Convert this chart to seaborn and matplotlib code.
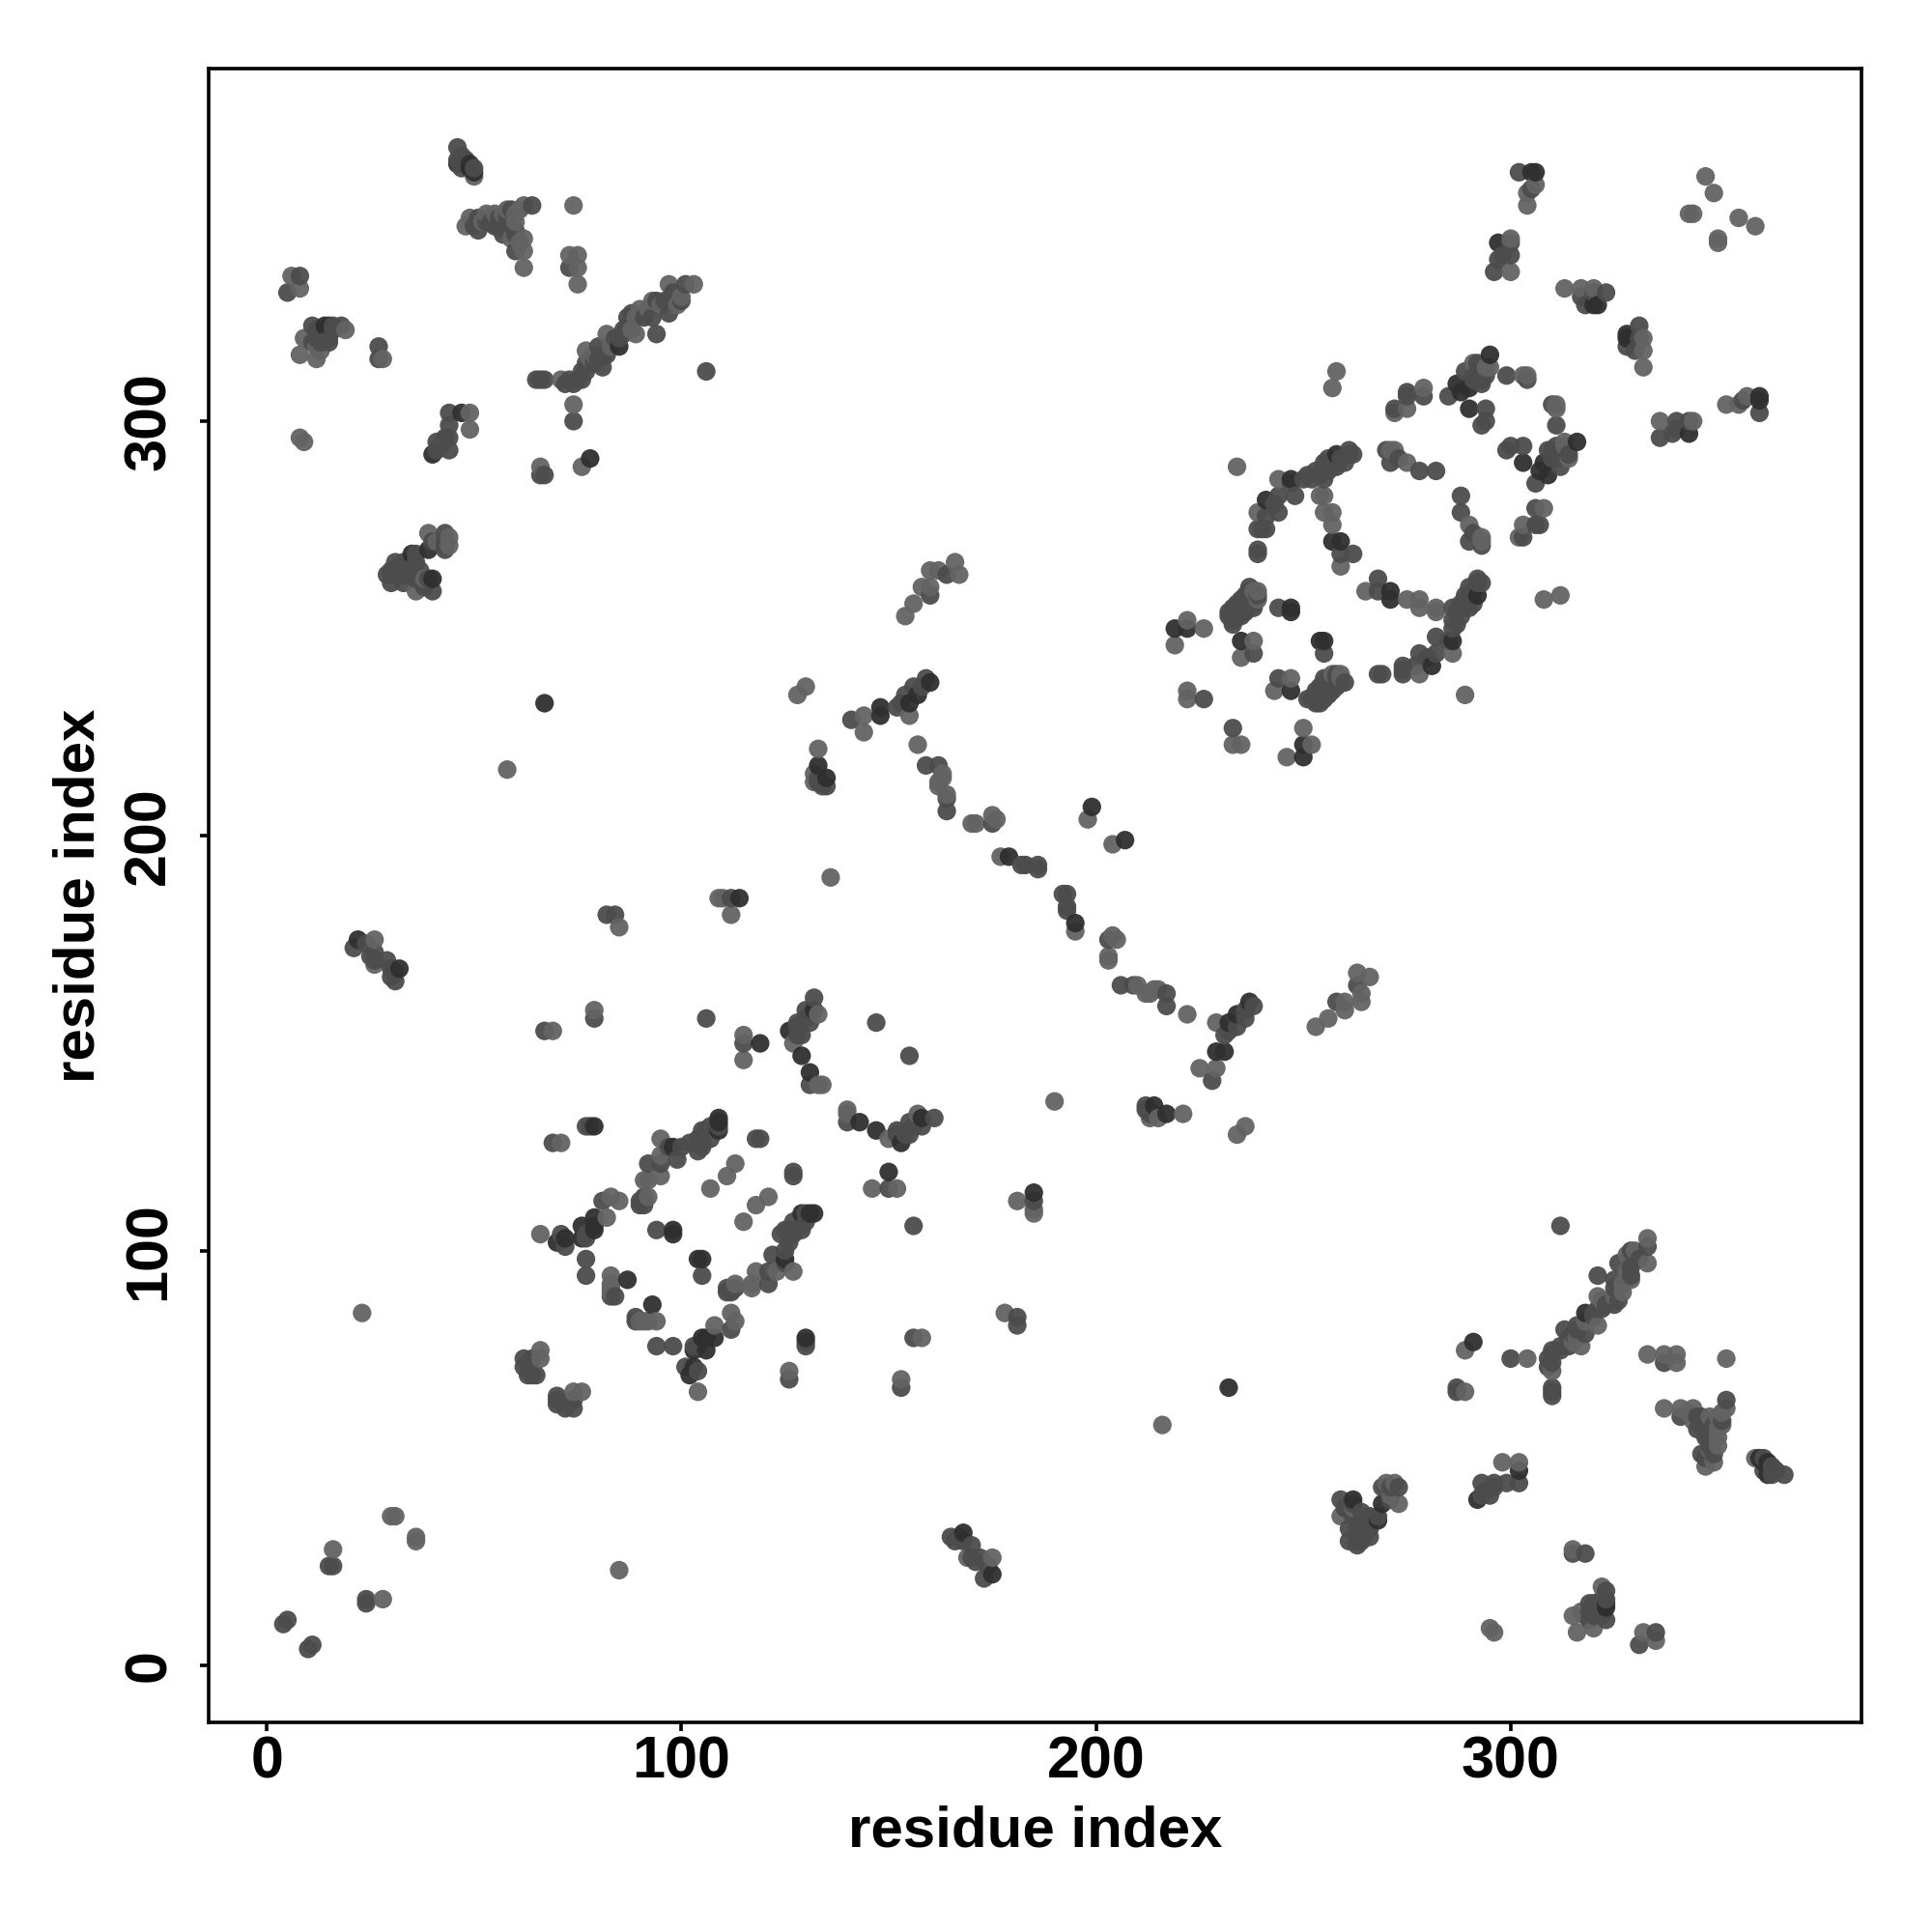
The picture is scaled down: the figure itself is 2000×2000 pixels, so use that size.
# Residue contact map, both triangles drawn from one list of contacts

import pandas as pd
import matplotlib.pyplot as plt
import seaborn as sns


# -------------------------------------------------------
# 1. Data, contacts (residue i, residue j)
# -------------------------------------------------------

light_pairs = [
    (6, 335), (8, 332), (8, 316), (12, 315), (12, 318), (19, 322), (28, 315),
    (74, 352), (73, 340), (75, 340), (75, 337), (75, 333), (62, 344), (62, 341), (62, 337),
    (48, 347), (52, 348), (55, 350), (60, 350), (61, 351), (62, 352), (50, 359),
    (71, 310), (77, 317), (82, 321), (89, 325), (89, 321), (93, 329), (97, 333), (100, 330), (103, 333),
    (74, 304), (76, 289), (66, 289), (49, 302), (49, 298), (8, 296), (9, 295),
    (39, 273), (44, 272), (44, 270), (36, 259), (38, 262),
    (166, 266), (167, 263), (160, 264), (162, 264), (158, 260), (160, 260), (156, 256), (154, 253),
    (130, 236), (128, 234), (144, 225), (144, 229), (155, 229), (157, 222), (133, 221), (132, 213),
    (159, 217), (162, 217), (163, 215), (162, 213), (164, 210), (170, 203), (171, 203), (175, 205), (176, 204),
    (177, 195), (195, 177), (203, 175), (205, 175), (203, 171), (203, 170), (210, 164), (212, 162), (214, 163), (222, 157),
    (136, 190), (198, 204), (204, 198), (219, 246), (222, 252), (226, 250), (222, 235), (222, 233),
    (233, 222), (235, 222), (258, 312), (257, 308), (234, 289), (244, 286), (248, 282), (244, 282),
    (239, 278), (244, 278), (254, 282), (255, 278), (257, 278), (257, 275), (259, 265),
    (272, 302), (275, 303), (279, 308), (272, 293), (275, 290), (278, 288), (282, 288),
    (290, 275), (293, 271), (293, 270), (291, 314), (294, 313), (304, 311), (311, 304), (311, 303),
    (303, 294), (313, 295), (311, 294), (308, 279), (303, 275), (308, 257), (312, 258), (289, 234),
    (265, 259), (275, 257), (278, 257), (278, 255), (282, 255), (286, 244), (278, 239), (268, 239),
    (239, 259), (239, 257), (238, 247), (235, 243), (247, 238), (243, 235), (259, 238), (256, 238), (250, 226), (252, 222), (246, 219),
    (235, 222), (306, 357), (304, 352), (304, 355), (300, 344), (296, 336), (300, 336),
    (313, 332), (317, 332), (320, 332), (332, 313), (332, 317), (336, 300), (352, 304), (360, 302),
    (347, 359), (349, 355), (355, 349), (359, 347), (344, 350), (350, 343),
    (69, 153), (79, 158), (115, 152), (115, 146), (133, 157), (127, 150), (134, 140), (133, 140),
    (147, 155), (140, 134), (150, 127), (157, 133), (146, 115), (152, 115), (150, 115), (127, 119),
    (113, 121), (111, 118), (107, 115), (121, 113), (118, 111), (115, 107), (95, 127), (95, 123), (95, 118), (91, 117),
    (85, 112), (83, 113), (82, 108), (66, 104), (71, 126), (69, 126), (83, 94), (83, 91), (90, 83), (92, 83), (94, 83), (94, 77),
    (112, 85), (113, 83), (108, 82), (104, 66), (158, 79), (126, 71), (153, 69), (113, 92), (117, 92), (118, 95),
    (127, 95), (66, 76), (66, 74), (74, 66), (76, 66), (4, 10), (5, 11), (16, 28), (30, 36), (31, 36),
    (58, 216), (23, 85), (169, 26), (175, 26), (181, 84), (178, 85), (85, 178), (110, 185), (112, 181),
    (109, 185), (132, 215),
    (49, 349), (53, 350), (57, 350), (58, 351), (59, 344), (61, 343), (60, 348),
    (78, 315), (79, 316), (83, 318), (88, 322), (90, 327), (92, 327), (95, 328), (99, 328),
    (13, 317), (9, 320), (41, 271),
]

mid_pairs = [
    (5, 331), (8, 335), (11, 323), (11, 319), (15, 319), (27, 318), (27, 315), (18, 323),
    (46, 366), (46, 363), (47, 361), (47, 364), (48, 363), (50, 361),
    (51, 346), (56, 349), (57, 345), (60, 341), (64, 352), (73, 337), (65, 310), (66, 310), (67, 310),
    (74, 309), (75, 310), (76, 312), (77, 312), (80, 318), (80, 315), (81, 313), (86, 321), (87, 325),
    (94, 321), (93, 325), (96, 329), (97, 326), (101, 333), (106, 312), (74, 300),
    (67, 287), (66, 287), (44, 302), (44, 299), (44, 296), (44, 293), (41, 295),
    (43, 273), (43, 269), (36, 266), (31, 266), (32, 265), (29, 263), (30, 261), (36, 262), (40, 259), (31, 263),
    (164, 263), (160, 258), (141, 228), (152, 231), (153, 232), (154, 234), (156, 236), (158, 236), (159, 238),
    (135, 212), (164, 206), (175, 203), (182, 193), (183, 193), (186, 193), (186, 192),
    (192, 186), (193, 186), (193, 183), (206, 164), (209, 164), (217, 162), (217, 159),
    (226, 233), (233, 226), (247, 286), (252, 286), (253, 288), (255, 290), (258, 292), (261, 292), (262, 292), (256, 291), (255, 286),
    (241, 281), (241, 277), (239, 274), (241, 274), (239, 269), (239, 268), (257, 271), (259, 268), (262, 268),
    (275, 307), (279, 306), (270, 293), (271, 290), (288, 282), (288, 278), (290, 271), (291, 273),
    (289, 312), (294, 311), (294, 303), (293, 299), (294, 300), (299, 311), (304, 310), (311, 299),
    (299, 293), (300, 294), (316, 295), (314, 292), (311, 291), (312, 289), (306, 279), (307, 275), (303, 272), (306, 275),
    (268, 262), (268, 259), (292, 262), (293, 261), (289, 258), (286, 255), (288, 256), (286, 252), (289, 257),
    (286, 250), (282, 248), (282, 244), (278, 244), (277, 241), (274, 240), (232, 254), (233, 251), (235, 253), (237, 260),
    (238, 256), (235, 257), (244, 255), (238, 244), (254, 247), (255, 244), (244, 238),
    (251, 233), (252, 233), (253, 232), (255, 235), (260, 237), (257, 235), (255, 238), (250, 219),
    (302, 360), (297, 339), (300, 340), (323, 331), (317, 330), (328, 318), (331, 323), (331, 320),
    (340, 300), (343, 300), (336, 296), (340, 298), (356, 305),
    (67, 153), (79, 156), (106, 156), (115, 150), (132, 161), (130, 158), (128, 155), (130, 156), (128, 152),
    (131, 140), (155, 147), (140, 131), (152, 129), (155, 131), (161, 132), (154, 128), (156, 106),
    (127, 118), (118, 127), (119, 127), (109, 130), (106, 129), (104, 127), (102, 126), (99, 122), (105, 125), (107, 130),
    (91, 113), (90, 112), (91, 111), (81, 112), (79, 106), (77, 104), (71, 104), (72, 101), (77, 130),
    (94, 105), (105, 94), (77, 98), (77, 94), (84, 89), (83, 89), (89, 83), (98, 77), (103, 77), (101, 72), (104, 71),
    (130, 78), (126, 69), (156, 79), (153, 67), (111, 90), (121, 92), (122, 99), (125, 97), (121, 95), (125, 100),
    (126, 105), (124, 104), (127, 107), (129, 105), (126, 102), (62, 74), (62, 72), (63, 70), (65, 70),
    (70, 64), (72, 62), (74, 62), (74, 64), (10, 4), (11, 5), (15, 24), (24, 16), (165, 31), (173, 21),
    (170, 29), (82, 181), (84, 181), (112, 185), (114, 185),
    (50, 347), (51, 349), (53, 348), (54, 348), (55, 347), (56, 347), (58, 349), (58, 346), (59, 351), (60, 345), (60, 346),
    (72, 309), (73, 310), (76, 310), (77, 314), (79, 314), (81, 316), (82, 316), (84, 320), (85, 320), (86, 322),
    (87, 323), (88, 326), (91, 325), (94, 329), (98, 331), (100, 329),
    (33, 266), (34, 265), (30, 263), (30, 264), (32, 263), (33, 261), (34, 263), (37, 264), (38, 260), (39, 262),
    (43, 271), (43, 270), (36, 268), (40, 271),
    (12, 320), (13, 319), (13, 321), (15, 320), (14, 320), (16, 322), (16, 323), (12, 322),
    (233, 255), (234, 256), (236, 258), (237, 257), (234, 253), (236, 255), (238, 258),
    (253, 234), (254, 233), (256, 236), (258, 236), (259, 237), (254, 236), (258, 239),
    (290, 260), (291, 259), (287, 254), (288, 253), (290, 256), (287, 251), (285, 247), (280, 243),
    (285, 306), (291, 310), (292, 312), (293, 309), (312, 292), (310, 293), (313, 293),
    (166, 30), (167, 31), (168, 30), (170, 26), (171, 25), (172, 26), (174, 24),
    (133, 213), (134, 212), (133, 214), (41, 293), (42, 294), (43, 296),
]

dark_pairs = [
    (14, 323), (15, 323), (46, 362), (49, 362), (49, 361), (50, 360),
    (85, 318), (78, 291), (47, 302), (40, 292), (39, 269), (35, 268), (40, 262),
    (148, 231), (148, 229), (155, 232), (157, 234), (160, 237), (133, 217), (135, 214),
    (179, 195), (195, 179), (199, 207), (207, 199), (219, 250), (222, 250),
    (259, 271), (271, 259), (271, 257), (235, 247), (247, 255), (247, 254), (255, 247), (247, 235), (250, 222),
    (287, 309), (288, 307), (290, 308), (290, 303), (303, 290), (308, 290), (307, 288), (309, 287),
    (292, 258), (281, 241), (286, 247), (295, 316), (67, 232),
    (306, 360), (297, 343), (320, 328), (328, 321), (343, 297), (360, 305),
    (119, 150), (129, 147), (131, 143), (143, 131), (147, 129), (153, 126), (158, 132), (150, 119),
    (109, 132), (98, 125), (79, 130), (79, 108), (76, 106), (72, 103), (87, 93), (93, 87),
    (98, 105), (98, 104), (104, 98), (105, 98), (105, 79), (106, 79), (108, 79), (103, 76), (102, 70),
    (129, 109), (131, 109), (130, 79), (168, 32), (175, 22), (185, 114),
]


# -------------------------------------------------------
# 2. Build table, every contact also goes in mirrored
# -------------------------------------------------------

frames = []
for level, pairs in [("dark", dark_pairs), ("mid", mid_pairs), ("light", light_pairs)]:
    part = pd.DataFrame(pairs, columns=["i", "j"])
    part["level"] = level
    frames.append(part)
    frames.append(part.rename(columns={"i": "j", "j": "i"}))

contacts = pd.concat(frames, ignore_index=True)
contacts = contacts.drop_duplicates(subset=["i", "j"])
contacts = contacts.sort_values(by=["i", "j"])


# -------------------------------------------------------
# 3. Plot
# -------------------------------------------------------

sns.set_style("white")
plt.rcParams["font.family"] = ["Liberation Sans", "DejaVu Sans"]

fig = plt.figure(figsize=(10, 10), dpi=200)
ax = fig.add_axes([216 / 2000, 1 - 1783 / 2000, (1927 - 216) / 2000, (1783 - 71) / 2000])

sns.scatterplot(
    data=contacts,
    x="i",
    y="j",
    hue="level",
    palette={"dark": "#2f2f2f", "mid": "#4c4c4c", "light": "#636363"},
    s=48,
    linewidth=0,
    alpha=0.95,
    legend=False,
    ax=ax,
)

ax.set_xlim(-14, 384.6)
ax.set_ylim(-13.7, 385)
ax.set_xticks([0, 100, 200, 300])
ax.set_yticks([0, 100, 200, 300])
ax.tick_params(axis="both", direction="out", length=3.2, width=1.3, color="black",
               bottom=True, left=True, labelsize=22, labelcolor="black")
ax.tick_params(axis="x", pad=1.8)
ax.tick_params(axis="y", pad=8.4)
plt.setp(ax.get_xticklabels(), fontweight="bold")
plt.setp(ax.get_yticklabels(), fontweight="bold", rotation=90, va="center")

ax.set_xlabel("residue index", fontsize=21.6, fontweight="bold", color="black", labelpad=5.2)
ax.set_ylabel("residue index", fontsize=21.6, fontweight="bold", color="black", labelpad=6.2)

for spine in ax.spines.values():
    spine.set_color("black")
    spine.set_linewidth(1.3)

fig.savefig("out.png", dpi=200)
plt.close(fig)
